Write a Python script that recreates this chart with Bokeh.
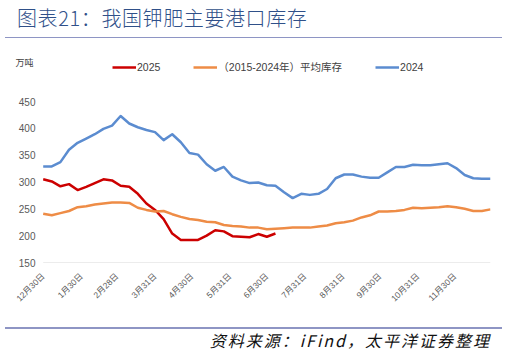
from math import pi
from bokeh.plotting import figure
from bokeh.layouts import column
from bokeh.models import Range1d, FixedTicker, Legend, LegendItem, Div, Label
from bokeh.embed import file_html
from bokeh.resources import INLINE

# ---- data (weekly, in 万吨) ----
tick_days = [0, 31, 60, 91, 121, 152, 182, 213, 244, 274, 305, 335]
tick_labels = ["12月30日", "1月30日", "2月28日", "3月31日", "4月30日", "5月31日",
               "6月30日", "7月31日", "8月31日", "9月30日", "10月31日", "11月30日"]
y_ticks = [150, 200, 250, 300, 350, 400, 450]

series_2024 = [329, 329, 337, 360, 373, 381, 389, 399, 405, 423, 409, 402, 397, 393,
               378, 389, 374, 354, 351, 333, 321, 328, 310, 303, 298, 299, 294, 293,
               281, 270, 278, 276, 278, 287, 307, 314, 314, 310, 308, 308, 318, 328,
               328, 332, 331, 331, 333, 335, 326, 313, 307, 306, 306]
series_2025 = [305, 301, 292, 296, 285, 291, 298, 305, 303, 293, 291, 278, 260, 248,
               231, 204, 192, 192, 192, 200, 210, 208, 199, 198, 197, 203, 198, 204]
series_avg = [241, 238, 242, 246, 253, 255, 258, 260, 262, 262, 261, 252, 248, 245,
              246, 240, 235, 231, 229, 226, 225, 220, 218, 217, 215, 215, 212, 213,
              214, 215, 215, 215, 217, 219, 223, 225, 228, 234, 238, 245, 245, 246,
              248, 252, 251, 252, 253, 255, 253, 250, 246, 246, 249]

names = ["2025", "（2015-2024年）平均库存", "2024"]
colors = ["#CC0000", "#EE8C46", "#5B8CD0"]
title_text = "图表21：我国钾肥主要港口库存"
unit_text = "万吨"
source_text = "资料来源：iFind，太平洋证券整理"

x_2024 = [7 * i for i in range(len(series_2024))]
x_2025 = [7 * i for i in range(len(series_2025))]
x_avg = [7 * i for i in range(len(series_avg))]

MIXED_FONT = "Liberation Sans, Noto Sans CJK SC"
W = 507
TOP_H = 44
PLOT_H = 274
BOT_H = 354 - TOP_H - PLOT_H
RULE = "#8E95C4"

top_div = Div(width=W, height=TOP_H, margin=0, text=(
    f'<div style="position:relative;width:{W}px;height:{TOP_H}px;">'
    f'<div style="position:absolute;left:17px;top:5px;white-space:nowrap;'
    f"font-family:'Noto Sans CJK SC';font-size:20px;line-height:26px;font-weight:300;"
    f'letter-spacing:0.6px;color:#2F5089;">{title_text}</div>'
    f'<div style="position:absolute;left:5px;top:36.5px;width:497px;height:1.5px;'
    f'background:{RULE};"></div></div>'))

bot_div = Div(width=W, height=BOT_H, margin=0, text=(
    f'<div style="position:relative;width:{W}px;height:{BOT_H}px;">'
    f'<div style="position:absolute;left:5px;top:9px;width:497px;height:1.5px;'
    f'background:{RULE};"></div>'
    f'<div style="position:absolute;right:16px;top:12px;white-space:nowrap;'
    f"font-family:'Noto Sans CJK SC';font-size:16px;line-height:20px;font-style:italic;"
    f'letter-spacing:2px;color:#111111;">{source_text}</div></div>'))

# frame spans canvas x 5..490 and canvas y 56..262 (plot starts at canvas y 44)
FL, FR = 5, 490
FT, FB = 56 - TOP_H, 262 - TOP_H
px_per_day = (490 - 42.7) / 364
x_start = -(42.7 - FL) / px_per_day
frame_h = FB - FT
y_end = (450 - 150 * (101 - 56) / frame_h) / (1 - (101 - 56) / frame_h)

p = figure(width=W, height=PLOT_H, output_backend="svg", toolbar_location=None,
           x_range=Range1d(x_start, 364), y_range=Range1d(150, y_end),
           min_border_left=FL, min_border_right=W - FR,
           min_border_top=FT, min_border_bottom=PLOT_H - FB, margin=0)
p.outline_line_color = None
p.background_fill_color = "white"
p.border_fill_color = "white"
p.xgrid.visible = False
p.ygrid.visible = False

# y axis: labels drawn to the right of the (invisible) axis at frame's left edge
p.yaxis.ticker = FixedTicker(ticks=y_ticks)
p.yaxis.axis_line_color = None
p.yaxis.major_tick_line_color = None
p.yaxis.minor_tick_line_color = None
p.yaxis.major_label_text_font = "Liberation Sans"
p.yaxis.major_label_text_font_size = "10px"
p.yaxis.major_label_text_color = "#595959"
p.yaxis.major_label_standoff = -(33 - FL) - 8

# x axis
p.xaxis.ticker = FixedTicker(ticks=tick_days)
p.xaxis.major_label_overrides = {d: s for d, s in zip(tick_days, tick_labels)}
p.xaxis.major_label_orientation = pi / 4
p.xaxis.axis_line_color = None
p.xaxis.major_tick_line_color = None
p.xaxis.minor_tick_line_color = None
p.xaxis.major_label_text_font = MIXED_FONT
p.xaxis.major_label_text_font_size = "8.5px"
p.xaxis.major_label_text_color = "#595959"
p.xaxis.major_label_standoff = 6

# category-axis baseline spanning the data period
p.segment(x0=[x_avg[0]], y0=[y_ticks[0]], x1=[x_avg[-1]], y1=[y_ticks[0]],
          line_color="#D9D9D9", line_width=1)

r25 = p.line(x_2025, series_2025, line_color=colors[0], line_width=2.5, line_join="round")
ravg = p.line(x_avg, series_avg, line_color=colors[1], line_width=2.5, line_join="round")
r24 = p.line(x_2024, series_2024, line_color=colors[2], line_width=2.5, line_join="round")

legend = Legend(items=[LegendItem(label=names[0], renderers=[r25]),
                       LegendItem(label=names[1], renderers=[ravg]),
                       LegendItem(label=names[2], renderers=[r24])],
                orientation="horizontal", location=(112 - FL, 262 - 74),
                glyph_width=24, glyph_height=14, label_standoff=1, spacing=33,
                padding=0, margin=0, border_line_color=None, background_fill_alpha=0,
                label_text_font=MIXED_FONT, label_text_font_size="10.5px",
                label_text_color="#404040", label_height=14)
p.add_layout(legend, "center")

unit = Label(x=15 - FL, y=262 - 62, x_units="screen", y_units="screen",
             text=unit_text, text_font="Noto Sans CJK SC", text_font_size="9px",
             text_color="#404040", text_baseline="middle")
p.add_layout(unit)

layout = column(top_div, p, bot_div, spacing=0, margin=0)
open("out.html", "w").write(file_html(layout, INLINE))
